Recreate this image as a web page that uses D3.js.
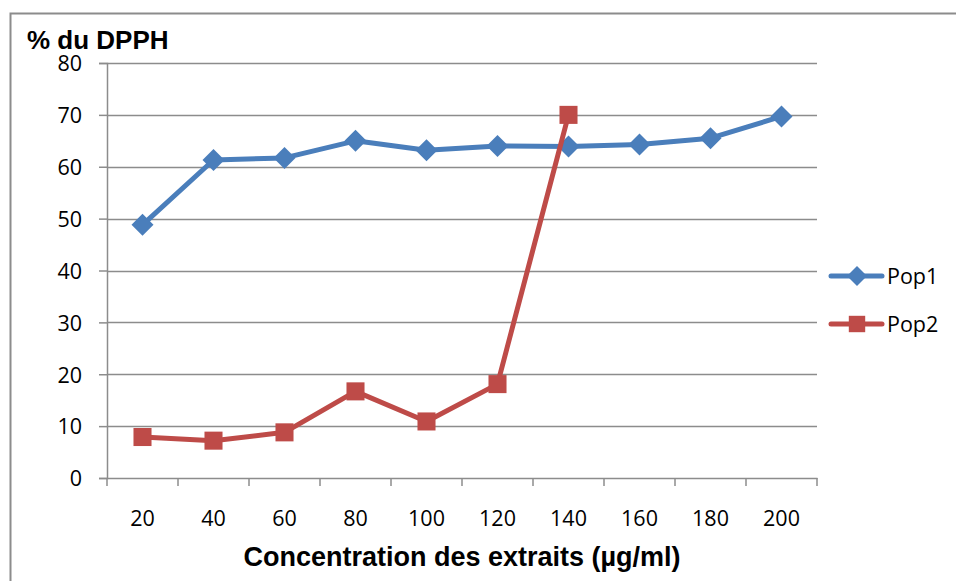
<!DOCTYPE html>
<html><head><meta charset="utf-8">
<script src="https://cdn.jsdelivr.net/npm/d3@7"></script>
<style>body{margin:0;background:#fff}svg{display:block}</style>
</head><body>
<script>
const categories = ["20","40","60","80","100","120","140","160","180","200"];
const pop1 = [48.8, 61.3, 61.7, 65.0, 63.2, 64.0, 63.9, 64.3, 65.5, 69.7];
const pop2 = [7.9, 7.2, 8.8, 16.7, 10.9, 18.1, 70.0];
const yTicks = [0,10,20,30,40,50,60,70,80];
const seriesNames = ["Pop1","Pop2"];
const colors = ["#4a7ebb","#be4b48"];

const W=956,H=581;
const svg=d3.select("body").append("svg").attr("width",W).attr("height",H);
const m={l:107,r:817,t:63,b:478};
const x=d3.scaleBand().domain(categories).range([m.l,m.r]);
const y=d3.scaleLinear().domain([0,80]).range([m.b,m.t]);
const tickFont="'Open Sans',sans-serif";

// outer border
svg.append("path").attr("d",`M10.5,${H} V13.5 H${W}`).attr("fill","none").attr("stroke","#8c8c8c").attr("stroke-width",2);

// gridlines
svg.append("g").selectAll("line").data(yTicks.filter(d=>d>0)).join("line")
  .attr("x1",m.l).attr("x2",m.r).attr("y1",d=>Math.round(y(d))+0.5).attr("y2",d=>Math.round(y(d))+0.5)
  .attr("stroke","#8c8c8c").attr("stroke-width",1.5);

// y axis
const ya=svg.append("g").attr("transform",`translate(${m.l},0)`)
  .call(d3.axisLeft(y).tickValues(yTicks).tickSize(8).tickPadding(17));
ya.select(".domain").attr("stroke","#8c8c8c").attr("stroke-width",1.5);
ya.selectAll(".tick line").attr("stroke","#8c8c8c").attr("stroke-width",1.5);
ya.selectAll(".tick text").attr("font-family",tickFont).attr("font-size",21.5).attr("fill","#000").attr("dy","0.36em");

// x axis
const xa=svg.append("g").attr("transform",`translate(0,${m.b})`)
  .call(d3.axisBottom(x).tickSize(0).tickPadding(33));
xa.select(".domain").attr("stroke","#8c8c8c").attr("stroke-width",1.5);
xa.selectAll(".tick text").attr("font-family",tickFont).attr("font-size",21.5).attr("fill","#000");
// tick marks at band boundaries
const bounds=categories.map(c=>x(c)).concat([m.r]);
svg.append("g").selectAll("line").data(bounds).join("line")
  .attr("x1",d=>d).attr("x2",d=>d).attr("y1",m.b).attr("y2",m.b+8)
  .attr("stroke","#8c8c8c").attr("stroke-width",1.5);

const cx=i=>x(categories[i])+x.bandwidth()/2;
const line=d3.line().x((d,i)=>cx(i)).y(d=>y(d));

function drawMarker(g,type,px,py,col,s){
  if(type===0){
    g.append("path").attr("d",`M${px},${py-s}L${px+s},${py}L${px},${py+s}L${px-s},${py}Z`).attr("fill",col);
  } else {
    g.append("rect").attr("x",px-s*0.82).attr("y",py-s*0.82).attr("width",s*1.64).attr("height",s*1.64).attr("fill",col);
  }
}

[pop1,pop2].forEach((s,k)=>{
  svg.append("path").datum(s).attr("d",line).attr("fill","none").attr("stroke",colors[k]).attr("stroke-width",5).attr("stroke-linejoin","round").attr("stroke-linecap","round");
  const g=svg.append("g");
  s.forEach((v,i)=>drawMarker(g,k,cx(i),y(v),colors[k],11));
});

// legend
seriesNames.forEach((n,k)=>{
  const ly=276+k*48;
  svg.append("line").attr("x1",831).attr("x2",882).attr("y1",ly).attr("y2",ly).attr("stroke",colors[k]).attr("stroke-width",5).attr("stroke-linecap","round");
  drawMarker(svg,k,857,ly,colors[k],10);
  svg.append("text").attr("x",887).attr("y",ly+8).text(n).attr("font-family",tickFont).attr("font-size",21.5).attr("fill","#000");
});

// titles
svg.append("text").attr("x",27).attr("y",49).text("% du DPPH").attr("font-family","'Liberation Sans',Arial,sans-serif").attr("font-weight","bold").attr("font-size",26).attr("fill","#000");
svg.append("text").attr("x",462).attr("y",566).attr("text-anchor","middle").text("Concentration des extraits (µg/ml)").attr("font-family","'Liberation Sans',Arial,sans-serif").attr("font-weight","bold").attr("font-size",27).attr("fill","#000");
</script>
</body></html>
